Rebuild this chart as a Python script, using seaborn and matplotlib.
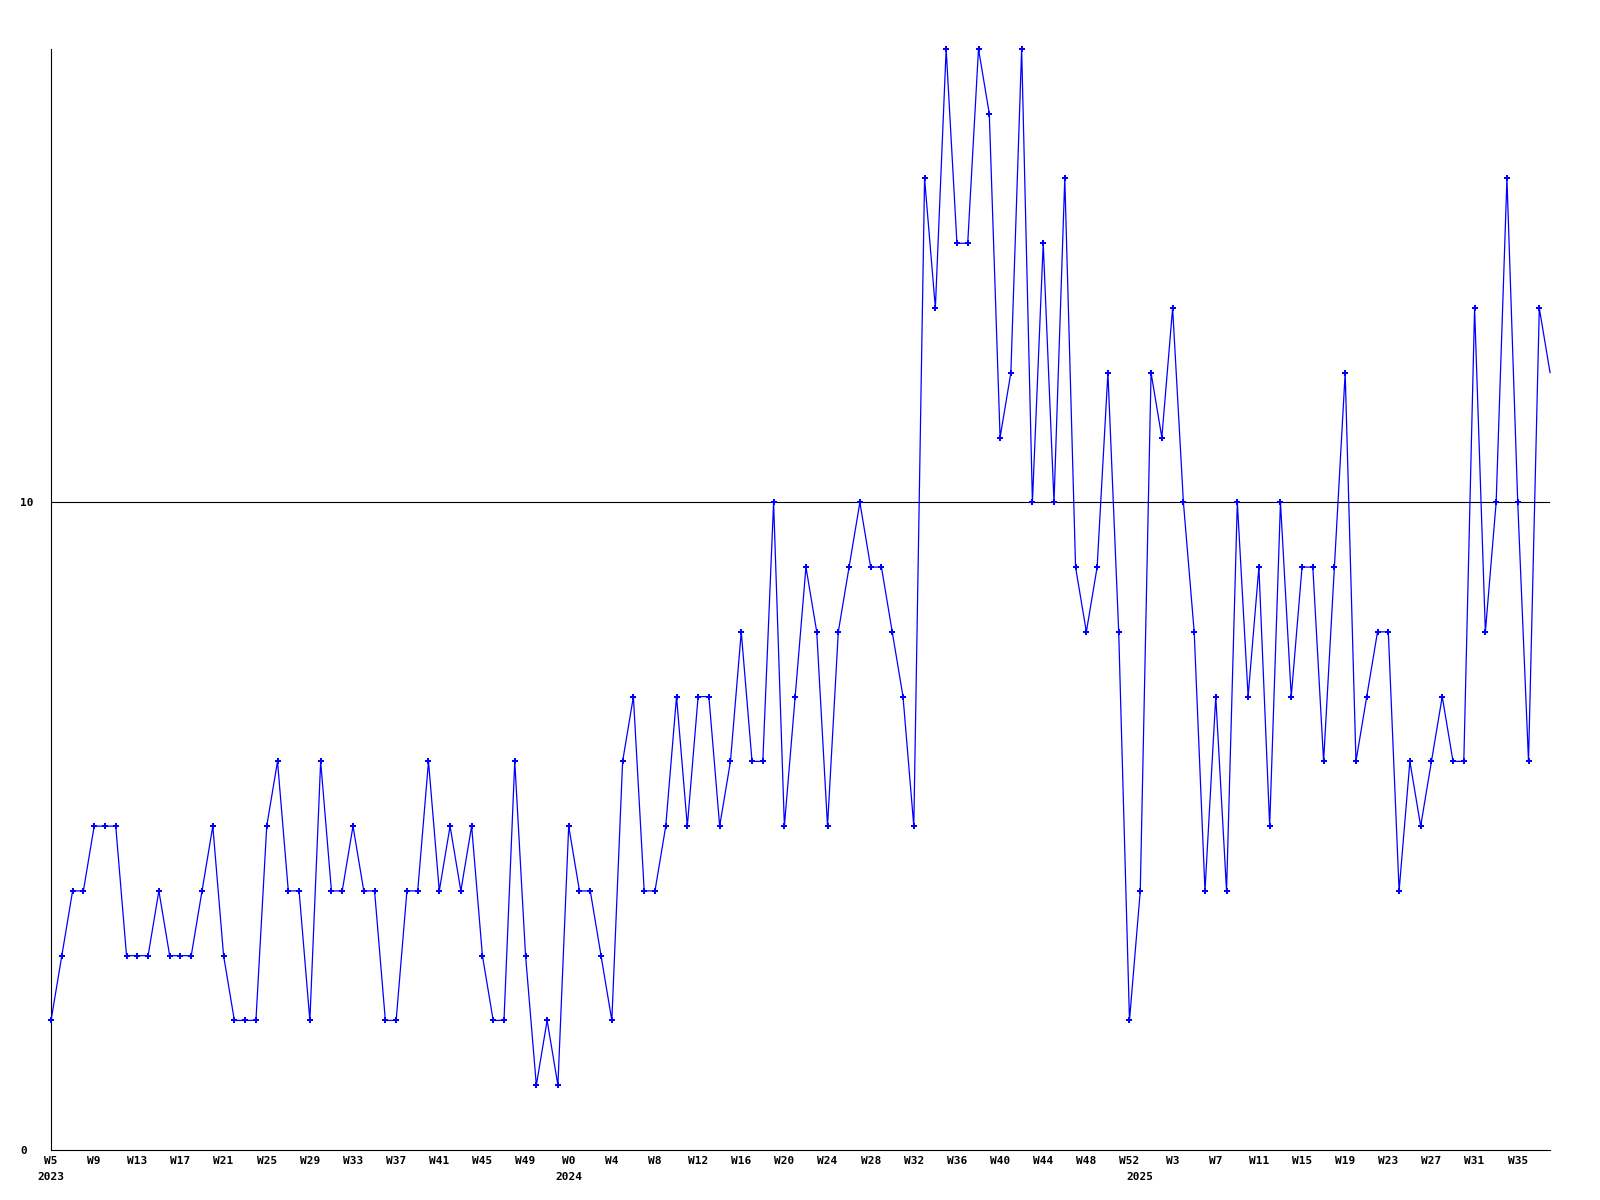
import numpy as np
import pandas as pd
import matplotlib
matplotlib.use("Agg")
import matplotlib.pyplot as plt
import matplotlib.transforms as mtransforms
import seaborn as sns

# -------------------------------
# Data (weekly counts, W5 2023 .. W38 2025)
# -------------------------------

values = [
    2, 3, 4, 4, 5, 5, 5, 3, 3, 3, 4, 3, 3, 3, 4, 5, 3, 2, 2, 2,
    5, 6, 4, 4, 2, 6, 4, 4, 5, 4, 4, 2, 2, 4, 4, 6, 4, 5, 4, 5,
    3, 2, 2, 6, 3, 1, 2, 1, 5, 4, 4, 3, 2, 6, 7, 4, 4, 5, 7, 5,
    7, 7, 5, 6, 8, 6, 6, 10, 5, 7, 9, 8, 5, 8, 9, 10, 9, 9, 8, 7,
    5, 15, 13, 17, 14, 14, 17, 16, 11, 12, 17, 10, 14, 10, 15, 9, 8, 9, 12, 8,
    2, 4, 12, 11, 13, 10, 8, 4, 7, 4, 10, 7, 9, 5, 10, 7, 9, 9, 6, 9,
    12, 6, 7, 8, 8, 4, 6, 5, 6, 7, 6, 6, 13, 8, 10, 15, 10, 6, 13, 12,
]

week_labels = [
    "W5", "W9", "W13", "W17", "W21", "W25", "W29", "W33", "W37", "W41", "W45", "W49",
    "W0", "W4", "W8", "W12", "W16", "W20", "W24", "W28", "W32", "W36", "W40", "W44", "W48", "W52",
    "W3", "W7", "W11", "W15", "W19", "W23", "W27", "W31", "W35",
]

year_labels = ["2023", "2024", "2025"]
year_starts = [0, 48, 101]

y_ticks = [0, 10]

df = pd.DataFrame({"week": np.arange(len(values)), "count": values})

# -------------------------------
# Plot
# -------------------------------

sns.set_style("white")
plt.rcParams["font.family"] = ["DejaVu Sans Mono"]

fig = plt.figure(figsize=(16, 12), dpi=100)
ax = fig.add_axes([0.0319, 0.0417, 0.9369, 0.9175])

ax.axhline(10, color="black", lw=0.8, zorder=1)

# last week runs off the right edge, so no marker there
sns.lineplot(data=df, x="week", y="count", ax=ax, color="#0000ff", lw=0.9,
             marker="P", markersize=4.5, markeredgewidth=0,
             markevery=list(range(len(values) - 1)), clip_on=False, zorder=3)

ax.set_xlim(0, len(values) - 1)
ax.set_ylim(0, 17)

ax.set_xticks(range(0, len(values), 4))
ax.set_xticklabels(week_labels, fontsize=8, fontweight="bold", color="black")
ax.set_yticks(y_ticks)
ax.set_yticklabels([str(t) for t in y_ticks], fontsize=8, fontweight="bold", color="black")
for lab in ax.get_yticklabels():
    lab.set_ha("left")

ax.tick_params(length=0)
ax.tick_params(axis="x", pad=4)
ax.tick_params(axis="y", pad=22)

ax.set_xlabel("")
ax.set_ylabel("")

for side in ["top", "right"]:
    ax.spines[side].set_visible(False)
for side in ["left", "bottom"]:
    ax.spines[side].set_color("black")
    ax.spines[side].set_linewidth(0.8)

trans = mtransforms.blended_transform_factory(ax.transData, ax.transAxes)
for pos, lab in zip(year_starts, year_labels):
    ax.text(pos, -0.0245, lab, transform=trans, ha="center", va="center",
            fontsize=8, fontweight="bold", color="black")

plt.savefig("out.png", dpi=100)
plt.close()
